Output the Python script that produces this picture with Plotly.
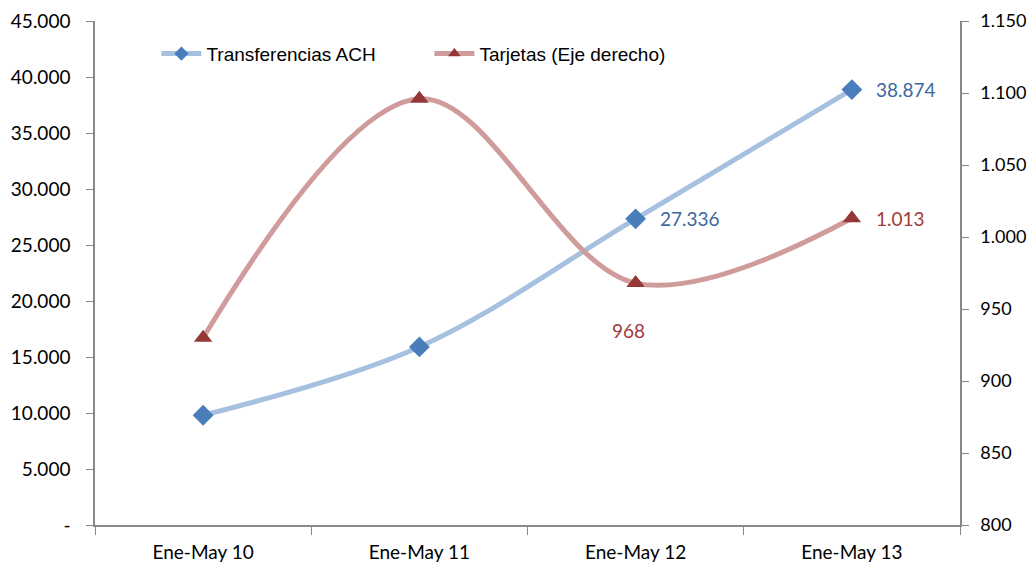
import plotly.graph_objects as go

categories = ["Ene-May 10", "Ene-May 11", "Ene-May 12", "Ene-May 13"]
ach = [9800, 15900, 27336, 38874]
tarjetas = [930, 1096, 968, 1013]
left_ticks = [0, 5000, 10000, 15000, 20000, 25000, 30000, 35000, 40000, 45000]
left_ticktext = ["-", "5.000", "10.000", "15.000", "20.000", "25.000", "30.000", "35.000", "40.000", "45.000"]
right_ticks = [800, 850, 900, 950, 1000, 1050, 1100, 1150]

def fmt(v):
    return f"{v:,}".replace(",", ".")

tick_font = dict(family="Lato", size=19, color="#000000")
ach_line = dict(color="#A6C0DF", width=5, shape="spline", smoothing=1.0)
tar_line = dict(color="#D09C9B", width=5, shape="spline", smoothing=1.0)
fig = go.Figure()
fig.add_trace(go.Scatter(
    x=categories, y=ach, name="Transferencias ACH", mode="lines+markers", showlegend=False,
    line=ach_line, marker=dict(symbol="diamond", size=16, color="#4A7EBB"),
))
fig.add_trace(go.Scatter(
    x=categories, y=tarjetas, name="Tarjetas (Eje derecho)", mode="lines+markers", yaxis="y2",
    showlegend=False, line=tar_line, marker=dict(symbol="triangle-up", size=16, color="#953735"),
))
# legend entries with smaller symbols
fig.add_trace(go.Scatter(
    x=[None], y=[None], name="Transferencias ACH", mode="lines+markers",
    line=dict(color="#A6C0DF", width=5), marker=dict(symbol="diamond", size=11, color="#4A7EBB"),
))
fig.add_trace(go.Scatter(
    x=[None], y=[None], name="Tarjetas (Eje derecho)", mode="lines+markers", yaxis="y2",
    line=dict(color="#D09C9B", width=5), marker=dict(symbol="triangle-up", size=11, color="#953735"),
))

ann = []
for i in (2, 3):
    ann.append(dict(x=categories[i], y=ach[i], yref="y", text=fmt(ach[i]), showarrow=False,
                    xanchor="left", xshift=22, font=dict(family="Lato", size=19, color="#3D68A0")))
ann.append(dict(x=categories[2], y=tarjetas[2], yref="y2", text=fmt(tarjetas[2]), showarrow=False,
                xanchor="center", yshift=-47, xshift=-7, font=dict(family="Lato", size=19, color="#A03C3A")))
ann.append(dict(x=categories[3], y=tarjetas[3], yref="y2", text=fmt(tarjetas[3]), showarrow=False,
                xanchor="left", xshift=22, font=dict(family="Lato", size=19, color="#A03C3A")))

fig.update_layout(
    width=1027, height=555,
    margin=dict(l=87, r=75, t=13, b=38, autoexpand=False),
    paper_bgcolor="white", plot_bgcolor="white",
    separators=",.",
    showlegend=True,
    legend=dict(orientation="h", x=0.071, y=0.935, xanchor="left", yanchor="middle",
                font=dict(family="Liberation Sans", size=19, color="#000000"),
                bgcolor="rgba(0,0,0,0)", entrywidth=218, entrywidthmode="pixels", itemwidth=40),
    xaxis=dict(type="category", range=[-0.5, 3.5], showgrid=False, showline=True, linecolor="#888888",
               linewidth=1.5, ticks="outside", tickson="boundaries", ticklen=8, tickcolor="#888888",
               tickfont=tick_font, zeroline=False, automargin=False, ticklabelstandoff=9),
    yaxis=dict(range=[0, 45000], tickvals=left_ticks, ticktext=left_ticktext, showgrid=False,
               showline=True, linecolor="#888888", linewidth=1.5, ticks="outside", ticklen=7,
               tickcolor="#888888", tickfont=tick_font, zeroline=False, automargin=False,
               ticklabelstandoff=12),
    yaxis2=dict(range=[800, 1150], tickvals=right_ticks, tickformat=",d", overlaying="y", side="right",
                showgrid=False, showline=True, linecolor="#888888", linewidth=1.5, ticks="outside",
                ticklen=7, tickcolor="#888888", tickfont=dict(family="Lato", size=18, color="#000000"),
                zeroline=False, automargin=False, ticklabelstandoff=8),
    annotations=ann,
)
fig.write_html("out.html")
